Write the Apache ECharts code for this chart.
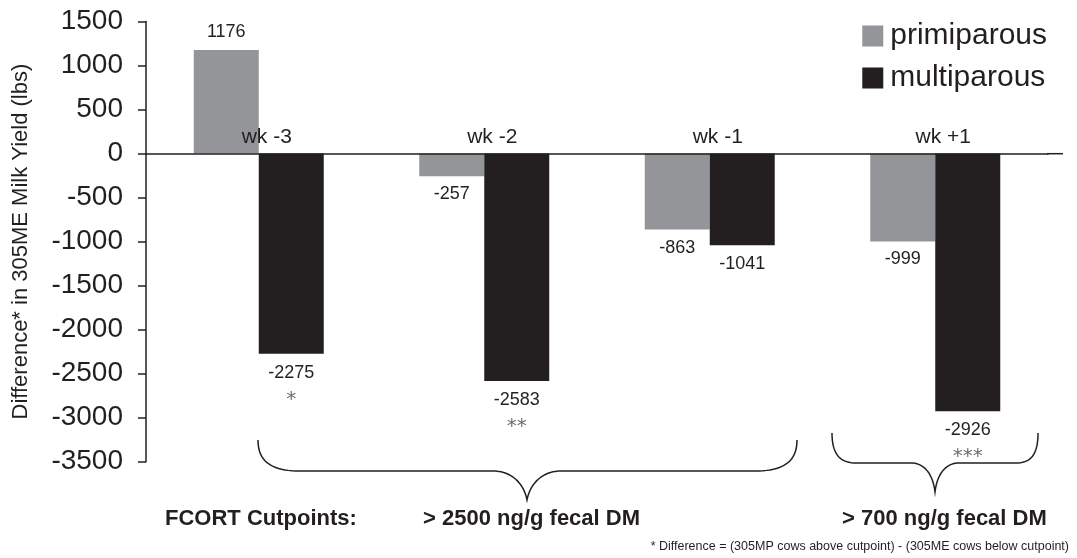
<!DOCTYPE html>
<html>
<head>
<meta charset="utf-8">
<script src="https://cdn.jsdelivr.net/npm/echarts@6/dist/echarts.min.js"></script>
<style>html,body{margin:0;padding:0;background:#fff;}#c{width:1077px;height:558px;}</style>
</head>
<body>
<div id="c"></div>
<script>
var categories = ['wk -3', 'wk -2', 'wk -1', 'wk +1'];
var primiparous = [1176, -257, -863, -999];
var multiparous = [-2275, -2583, -1041, -2926];
var multiStars = ['*', '**', '', '***'];
var yTicks = { min: -3500, max: 1500, interval: 500 };

var GRAY = '#939598', DARK = '#231f20', FONT = 'Liberation Sans, Arial, sans-serif';
var GRID = { left: 146, right: 29, top: 21.5, bottom: 96.3 };
var gridH = 558 - GRID.top - GRID.bottom;
// shift the category axis (with its labels) up to the zero line
var zeroOffset = -(0 - yTicks.min) / (yTicks.max - yTicks.min) * gridH;

function items(vals, stars) {
  return vals.map(function (v, i) {
    return {
      value: v,
      label: { position: v >= 0 ? 'top' : 'bottom' },
      stars: stars ? stars[i] : ''
    };
  });
}

// curly brace decoration built from cubic segments, sampled into a polyline
function brace(segs) {
  var pts = [];
  segs.forEach(function (s) {
    if (s.length === 2) { pts.push(s[0], s[1]); return; }
    var p0 = s[0], p1 = s[1], p2 = s[2], p3 = s[3];
    for (var k = 0; k <= 20; k++) {
      var t = k / 20, u = 1 - t;
      pts.push([
        u*u*u*p0[0] + 3*u*u*t*p1[0] + 3*u*t*t*p2[0] + t*t*t*p3[0],
        u*u*u*p0[1] + 3*u*u*t*p1[1] + 3*u*t*t*p2[1] + t*t*t*p3[1]
      ]);
    }
  });
  return { type: 'polyline', shape: { points: pts }, style: { fill: null, stroke: DARK, lineWidth: 1.5 } };
}

var chart = echarts.init(document.getElementById('c'));
chart.setOption({
  animation: false,
  textStyle: { fontFamily: FONT },
  grid: { left: GRID.left, right: GRID.right, top: GRID.top, bottom: GRID.bottom, containLabel: false, outerBoundsMode: 'none' },
  legend: {
    orient: 'vertical', right: 30, top: 21, padding: 0, itemWidth: 21, itemHeight: 21, itemGap: 12,
    icon: 'rect',
    textStyle: { fontSize: 30, color: DARK, lineHeight: 28, fontFamily: FONT, padding: [0, 0, 0, 2] },
    data: ['primiparous', 'multiparous']
  },
  xAxis: {
    type: 'category', data: categories, z: 10,
    offset: zeroOffset,
    axisLine: { onZero: false, lineStyle: { color: DARK, width: 1.5 } },
    axisTick: { show: false },
    axisLabel: { inside: true, margin: 6, fontSize: 21, color: DARK, padding: [0, 0, 0, 16] },
    splitLine: { show: false }
  },
  yAxis: {
    type: 'value', min: yTicks.min, max: yTicks.max, interval: yTicks.interval,
    name: 'Difference* in 305ME Milk Yield (lbs)', nameLocation: 'middle', nameGap: 114,
    nameTextStyle: { fontSize: 22, color: DARK },
    axisLine: { show: true, lineStyle: { color: DARK, width: 1.5 } },
    axisTick: { show: true, length: 8, lineStyle: { color: DARK, width: 1.5 } },
    axisLabel: { fontSize: 28, color: DARK, margin: 23, formatter: function (v) { return String(v); } },
    splitLine: { show: false }
  },
  series: [
    {
      name: 'primiparous', type: 'bar', data: items(primiparous), barWidth: 65, barGap: '0%',
      itemStyle: { color: GRAY },
      label: { show: true, fontSize: 18, color: DARK, distance: 9 }
    },
    {
      name: 'multiparous', type: 'bar', data: items(multiparous, multiStars), barWidth: 65, barGap: '0%',
      itemStyle: { color: DARK },
      label: {
        show: true, distance: 8,
        formatter: function (p) {
          return p.data.stars ? '{v|' + p.value + '}\n{s|' + p.data.stars + '}' : '{v|' + p.value + '}';
        },
        rich: {
          v: { fontSize: 18, color: DARK, lineHeight: 22 },
          s: { fontSize: 20, color: '#6d6e71', lineHeight: 31, fontFamily: 'DejaVu Sans' }
        }
      }
    }
  ],
  graphic: [
    { type: 'line', shape: { x1: 1047, y1: 153.7, x2: 1063, y2: 153.7 }, style: { stroke: DARK, lineWidth: 1.5 } },
    brace([
      [[258, 440], [258, 462], [272, 471], [300, 471]],
      [[300, 471], [493, 471]],
      [[493, 471], [512, 471], [524, 484], [527, 500]],
      [[527, 500], [530, 484], [542, 471], [561, 471]],
      [[561, 471], [755, 471]],
      [[755, 471], [783, 471], [797, 462], [797, 440]]
    ]),
    brace([
      [[832, 433], [832, 453], [839, 463], [856, 463]],
      [[856, 463], [911, 463]],
      [[911, 463], [925, 463], [933, 475], [935, 492]],
      [[935, 492], [937, 475], [945, 463], [959, 463]],
      [[959, 463], [1016, 463]],
      [[1016, 463], [1032, 463], [1038, 453], [1038, 433]]
    ]),
    { type: 'text', left: 165, top: 508, style: { text: 'FCORT Cutpoints:', font: 'bold 22px ' + FONT, fill: DARK } },
    { type: 'text', left: 423, top: 508, style: { text: '> 2500 ng/g fecal DM', font: 'bold 22px ' + FONT, fill: DARK } },
    { type: 'text', left: 842, top: 508, style: { text: '> 700 ng/g fecal DM', font: 'bold 22px ' + FONT, fill: DARK } },
    { type: 'text', right: 8, top: 540, style: { text: '* Difference = (305MP cows above cutpoint) - (305ME cows below cutpoint)', font: '12.5px ' + FONT, fill: DARK } }
  ]
});
</script>
</body>
</html>
